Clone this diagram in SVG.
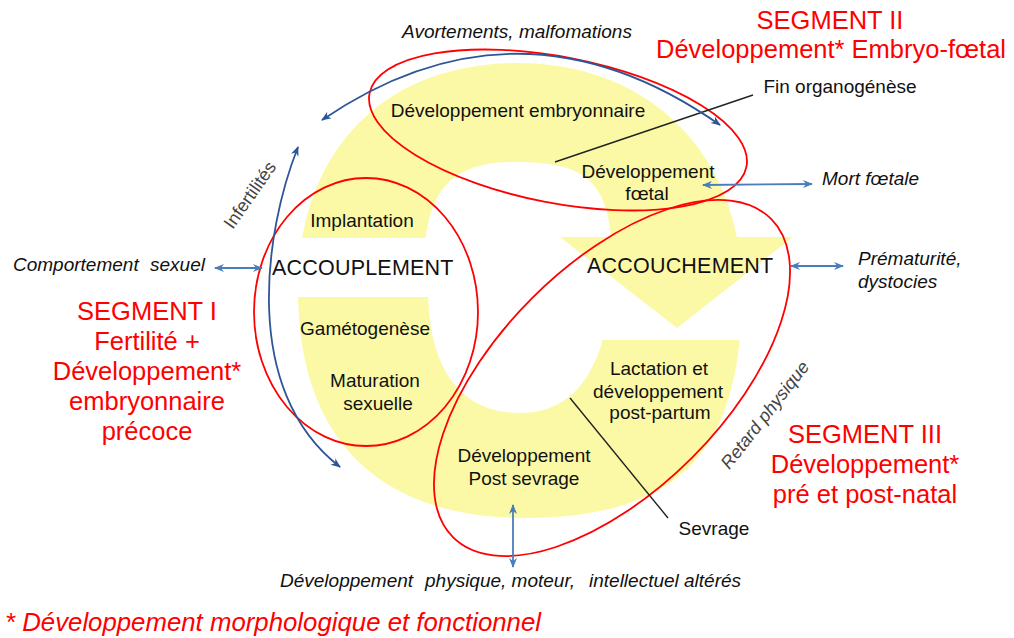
<svg xmlns="http://www.w3.org/2000/svg" width="1014" height="638" viewBox="0 0 1014 638">
<style>
text{font-family:"Liberation Sans",Arial,sans-serif;}
.lbl{font-size:19px;fill:#111;text-anchor:middle;}
.it{font-size:19px;fill:#111;font-style:italic;}
.big{font-size:21.5px;fill:#111;letter-spacing:0.2px;}
.seg{font-size:25.5px;fill:#ff0000;text-anchor:middle;}
.rot{font-size:18px;fill:#444;text-anchor:middle;}
.ell{fill:none;stroke:#ff0000;stroke-width:1.8;}
.blk{stroke:#222;stroke-width:1.4;fill:none;}
.arc{fill:none;stroke:#2f5597;stroke-width:1.8;marker-start:url(#ahd);marker-end:url(#ahd);}
.str{fill:none;stroke:#4a7ebb;stroke-width:1.8;marker-start:url(#ahl);marker-end:url(#ahl);}
</style>
<defs>
<marker id="ahd" viewBox="0 0 10 8" markerUnits="userSpaceOnUse" markerWidth="11" markerHeight="8" refX="9" refY="4" orient="auto-start-reverse"><path d="M0,0 L10,4 L0,8 L3,4 z" fill="#2f5597"/></marker>
<marker id="ahl" viewBox="0 0 10 8" markerUnits="userSpaceOnUse" markerWidth="11" markerHeight="8" refX="9" refY="4" orient="auto-start-reverse"><path d="M0,0 L10,4 L0,8 L3,4 z" fill="#4a7ebb"/></marker>
</defs>
<rect width="1014" height="638" fill="#fff"/>
<g id="cycle-arrow">
<path fill="#fcf9a6" fill-rule="evenodd" d="M298 290 C298 150 385 63 518 63 C650 63 742 155 742 290 C742 440 690 518 525 518 C380 518 298 440 298 290 Z M423 287 C423 200 440 162 515 162 C585 162 612 180 612 260 C612 360 580 413 520 413 C465 413 428 375 428 287 Z"/>
<rect x="590" y="237" width="175" height="103" fill="#fff"/>
<polygon points="560,237 793,237 677,328" fill="#fcf9a6"/>
<rect x="285" y="238" width="155" height="59" fill="#fff"/>
</g>
<g id="segment-1"><ellipse class="ell" cx="366" cy="312" rx="112" ry="134"/></g>
<g id="segment-2"><ellipse class="ell" cx="558" cy="130" rx="192" ry="73" transform="rotate(11 558 130)"/></g>
<g id="segment-3"><ellipse class="ell" cx="612" cy="378" rx="225" ry="113" transform="rotate(-45 612 378)"/></g>
<g id="connectors">
<line class="blk" x1="555" y1="162" x2="753" y2="95"/>
<line class="blk" x1="570" y1="398" x2="668" y2="518"/>
<path class="arc" d="M322 120 Q520 -15 720 125"/>
<path class="arc" d="M298 147 C265 230 240 390 340 467"/>
<path class="str" d="M215 268 L262 268"/>
<path class="str" d="M703 185 L812 184"/>
<path class="str" d="M791 266 L843 266"/>
<path class="str" d="M513 505 L513 567"/>
</g>
<g id="labels-ring">
<text class="lbl" x="518" y="117">Développement embryonnaire</text>
<text class="lbl" x="648" y="178">Développement</text>
<text class="lbl" x="647" y="200">fœtal</text>
<text class="lbl" x="362" y="227">Implantation</text>
<text class="lbl" x="365" y="335">Gamétogenèse</text>
<text class="lbl" x="375" y="387">Maturation</text>
<text class="lbl" x="378" y="410">sexuelle</text>
<text class="lbl" x="659" y="375">Lactation et</text>
<text class="lbl" x="658" y="398">développement</text>
<text class="lbl" x="660" y="419">post-partum</text>
<text class="lbl" x="524" y="462">Développement</text>
<text class="lbl" x="524" y="485">Post sevrage</text>
<text class="big" x="272" y="275">ACCOUPLEMENT</text>
<text class="big" x="587" y="273">ACCOUCHEMENT</text>
<text class="lbl" x="840" y="93">Fin organogénèse</text>
<text class="lbl" x="714" y="535">Sevrage</text>
</g>
<g id="labels-effects">
<text class="it" x="517" y="38" text-anchor="middle">Avortements, malfomations</text>
<text class="it" x="13" y="271">Comportement</text>
<text class="it" x="150" y="271">sexuel</text>
<text class="it" x="822" y="185">Mort fœtale</text>
<text class="it" x="858" y="265">Prématurité,</text>
<text class="it" x="858" y="288">dystocies</text>
<text class="it" x="280" y="587">Développement</text>
<text class="it" x="425" y="587">physique, moteur,</text>
<text class="it" x="589" y="587">intellectuel altérés</text>
<text class="rot" transform="translate(250 195) rotate(-55)" y="6">Infertilités</text>
<text class="rot" transform="translate(765 415) rotate(-52)" y="6" font-style="italic">Retard physique</text>
</g>
<g id="labels-segments">
<text class="seg" x="830" y="29">SEGMENT II</text>
<text class="seg" x="831" y="58">Développement* Embryo-fœtal</text>
<text class="seg" x="147" y="320">SEGMENT I</text>
<text class="seg" x="147" y="350">Fertilité +</text>
<text class="seg" x="147" y="380">Développement*</text>
<text class="seg" x="147" y="410">embryonnaire</text>
<text class="seg" x="147" y="440">précoce</text>
<text class="seg" x="865" y="443">SEGMENT III</text>
<text class="seg" x="865" y="473">Développement*</text>
<text class="seg" x="865" y="503">pré et post-natal</text>
<text x="5" y="631" font-size="25" font-style="italic" fill="#ff0000" textLength="536" lengthAdjust="spacingAndGlyphs">* Développement morphologique et fonctionnel</text>
</g>
</svg>
